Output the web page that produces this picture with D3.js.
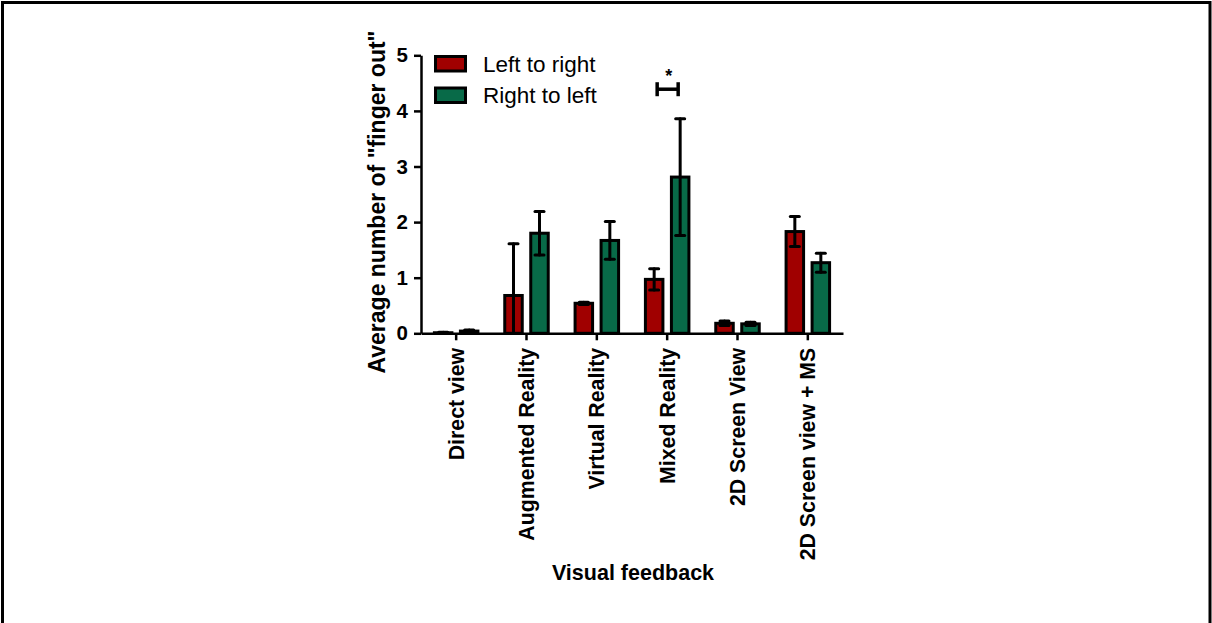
<!DOCTYPE html>
<html>
<head>
<meta charset="utf-8">
<script src="https://cdn.jsdelivr.net/npm/d3@7"></script>
<style>
  html, body { margin: 0; padding: 0; background: #fff; }
  svg { display: block; font-family: "Liberation Sans", Arial, sans-serif; }
</style>
</head>
<body>
<svg id="chart" width="1212" height="623"></svg>
<script>
const categories = ["Direct view", "Augmented Reality", "Virtual Reality", "Mixed Reality", "2D Screen View", "2D Screen view + MS"];
const seriesNames = ["Left to right", "Right to left"];
const leftToRight = [0.01, 0.68, 0.54, 0.97, 0.18, 1.83];
const leftToRightErr = [0.01, 0.93, 0.02, 0.19, 0.04, 0.27];
const rightToLeft = [0.04, 1.80, 1.67, 2.81, 0.17, 1.27];
const rightToLeftErr = [0.02, 0.39, 0.34, 1.05, 0.03, 0.17];
const yTicks = [0, 1, 2, 3, 4, 5];
const seriesColors = ["#a00000", "#086a48"];
const significance = { category: "Mixed Reality", value: 4.39, label: "*" };

const svg = d3.select("#chart");

// frame
svg.append("rect").attr("x", 2.5).attr("y", 2.5).attr("width", 1207.5).attr("height", 640)
  .attr("fill", "none").attr("stroke", "#000").attr("stroke-width", 3);

const plot = { left: 421, right: 843, top: 55.3, bottom: 333.3 };

const x0 = d3.scaleBand().domain(categories).range([plot.left, plot.right]).padding(0);
const x1 = d3.scalePoint().domain(seriesNames).range([-13, 13]);
const y = d3.scaleLinear().domain([0, 5]).range([plot.bottom, plot.top]);

const data = [];
categories.forEach((c, i) => {
  data.push({ cat: c, s: seriesNames[0], v: leftToRight[i], e: leftToRightErr[i], color: seriesColors[0] });
  data.push({ cat: c, s: seriesNames[1], v: rightToLeft[i], e: rightToLeftErr[i], color: seriesColors[1] });
});

const barW = 17.5;
const cx = d => x0(d.cat) + x0.bandwidth() / 2 + x1(d.s);

// bars
svg.append("g").selectAll("rect").data(data).join("rect")
  .attr("x", d => cx(d) - barW / 2)
  .attr("y", d => y(d.v))
  .attr("width", barW)
  .attr("height", d => y(0) - y(d.v))
  .attr("fill", d => d.color)
  .attr("stroke", "#000")
  .attr("stroke-width", 3);

// error bars
const eg = svg.append("g").attr("stroke", "#000").attr("stroke-width", 3).attr("stroke-linecap", "round");
data.forEach(d => {
  const hi = d.v + d.e;
  const lo = Math.max(0, d.v - d.e);
  const xc = cx(d);
  eg.append("line").attr("x1", xc).attr("x2", xc).attr("y1", y(hi)).attr("y2", y(lo));
  eg.append("line").attr("x1", xc - 4.5).attr("x2", xc + 4.5).attr("y1", y(hi)).attr("y2", y(hi));
  if (d.v - d.e > 0) {
    eg.append("line").attr("x1", xc - 4.5).attr("x2", xc + 4.5).attr("y1", y(lo)).attr("y2", y(lo));
  }
});

// y axis
const yAxis = svg.append("g").attr("transform", `translate(${plot.left},0)`)
  .call(d3.axisLeft(y).tickValues(yTicks).tickFormat(d3.format("d")).tickSize(7).tickPadding(6).tickSizeOuter(0));
yAxis.select(".domain").attr("stroke", "#000").attr("stroke-width", 2.5);
yAxis.selectAll(".tick line").attr("stroke", "#000").attr("stroke-width", 2.5);
yAxis.selectAll(".tick text").attr("font-size", 20.5).attr("font-weight", "bold").attr("fill", "#000")
  .attr("font-family", "'Liberation Sans', Arial, sans-serif");

// x axis
const xAxis = svg.append("g").attr("transform", `translate(0,${plot.bottom})`)
  .call(d3.axisBottom(x0).tickSize(7).tickSizeOuter(0).tickFormat(""));
xAxis.select(".domain").attr("stroke", "#000").attr("stroke-width", 2.5);
xAxis.selectAll(".tick line").attr("stroke", "#000").attr("stroke-width", 2.5);
xAxis.selectAll(".tick").append("text")
  .attr("transform", "translate(0,14.5) rotate(-90)")
  .attr("text-anchor", "end")
  .attr("dy", "0.35em")
  .attr("font-size", 21.3)
  .attr("font-weight", "bold")
  .attr("fill", "#000")
  .attr("font-family", "'Liberation Sans', Arial, sans-serif")
  .text(d => d);

// axis titles
svg.append("text")
  .attr("transform", `translate(385,${202}) rotate(-90)`)
  .attr("text-anchor", "middle")
  .attr("font-size", 23).attr("font-weight", "bold")
  .text('Average number of "finger out"');

svg.append("text")
  .attr("x", 633).attr("y", 580)
  .attr("text-anchor", "middle")
  .attr("font-size", 21.5).attr("font-weight", "bold")
  .text("Visual feedback");

// legend
const lg = svg.append("g");
seriesNames.forEach((s, i) => {
  const yy = 56.5 + i * 31.5;
  lg.append("rect").attr("x", 435.5).attr("y", yy).attr("width", 30).attr("height", 14.5)
    .attr("fill", seriesColors[i]).attr("stroke", "#000").attr("stroke-width", 3);
  lg.append("text").attr("x", 483).attr("y", yy + 15).attr("font-size", 22.5).text(s);
});

// significance bracket
const sx = x0(significance.category) + x0.bandwidth() / 2;
const sy = y(significance.value);
const sg = svg.append("g").attr("stroke", "#000").attr("stroke-width", 3.5);
sg.append("line").attr("x1", sx - 10).attr("x2", sx + 11).attr("y1", sy).attr("y2", sy);
sg.append("line").attr("x1", sx - 10).attr("x2", sx - 10).attr("y1", sy - 7).attr("y2", sy + 7);
sg.append("line").attr("x1", sx + 11).attr("x2", sx + 11).attr("y1", sy - 7).attr("y2", sy + 7);
svg.append("text").attr("x", sx + 1.5).attr("y", sy - 7).attr("text-anchor", "middle")
  .attr("font-size", 18).attr("font-weight", "bold").text(significance.label);
</script>
</body>
</html>
